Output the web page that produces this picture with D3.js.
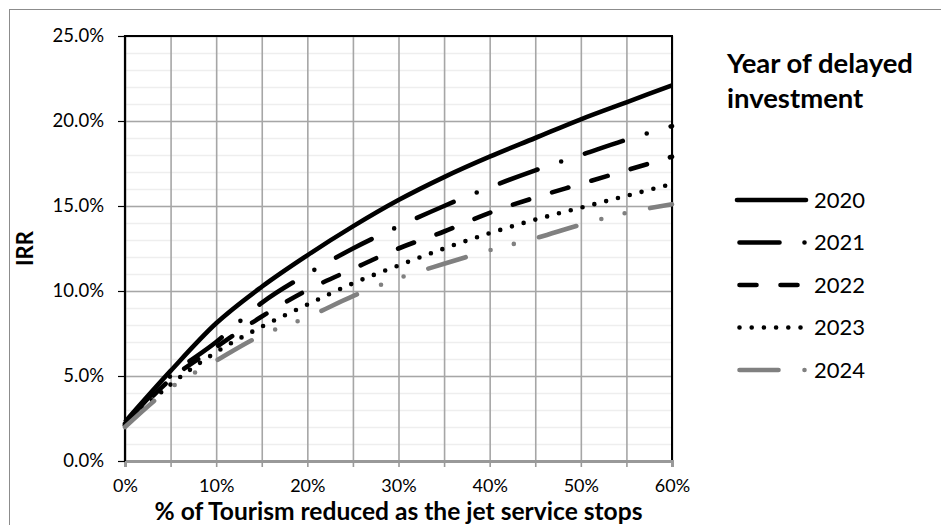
<!DOCTYPE html>
<html>
<head>
<meta charset="utf-8">
<script src="https://cdn.jsdelivr.net/npm/d3@7"></script>
<style>
  body { margin: 0; background: #fff; }
  svg { display: block; }
  text { font-family: Lato, "Liberation Sans", sans-serif; fill: #000; }
</style>
</head>
<body>
<div id="chart"></div>
<script>
// values (IRR in %, at every 5% of tourism reduced)
const reduction = [0, 5, 10, 15, 20, 25, 30, 35, 40, 45, 50, 55, 60];
const irr2020 = [2.3, 5.3, 8.1, 10.25, 12.1, 13.8, 15.35, 16.7, 17.9, 19.0, 20.1, 21.1, 22.1];
const irr2021 = [2.2, 5.0, 7.0, 9.3, 11.0, 12.5, 13.8, 15.0, 16.1, 17.1, 18.0, 18.9, 19.7];
const irr2022 = [2.1, 4.8, 6.7, 8.5, 10.05, 11.3, 12.5, 13.5, 14.6, 15.5, 16.3, 17.1, 17.9];
const irr2023 = [2.1, 4.5, 6.4, 7.9, 9.2, 10.45, 11.5, 12.5, 13.4, 14.2, 14.9, 15.6, 16.3];
const irr2024 = [2.0, 4.3, 5.9, 7.4, 8.45, 9.7, 10.75, 11.6, 12.4, 13.1, 13.9, 14.6, 15.1];
const years = ["2020", "2021", "2022", "2023", "2024"];
const yTicks = [0, 5, 10, 15, 20, 25];
const xTicks = [0, 5, 10, 15, 20, 25, 30, 35, 40, 45, 50, 55, 60];

const series = [irr2020, irr2021, irr2022, irr2023, irr2024];

// line look for each year
const lineStyle = {
  "2020": { color: "#000", dash: null },
  "2021": { color: "#000", dash: "40 25 0 25" },
  "2022": { color: "#000", dash: "17 24" },
  "2023": { color: "#000", dash: "0 12.2" },
  "2024": { color: "#808080", dash: "39 26 0 24 0 26" }
};

let width = 941, height = 525;
let plot = { left: 125, right: 672, top: 36, bottom: 461 };

let svg = d3.select("#chart")
  .append("svg")
  .attr("width", width)
  .attr("height", height);

// outer chart border
svg.append("rect")
  .attr("x", 9.5).attr("y", 9.5)
  .attr("width", 940).attr("height", 540)
  .attr("fill", "none")
  .attr("stroke", "#8c8c8c")
  .attr("stroke-width", 1);

let x = d3.scaleLinear().domain([0, 60]).range([plot.left, plot.right]);
let y = d3.scaleLinear().domain([0, 25]).range([plot.bottom, plot.top]);

// minor horizontal gridlines every 1%
svg.append("g")
  .attr("transform", `translate(${plot.left},0)`)
  .call(d3.axisLeft(y).ticks(25).tickSize(-(plot.right - plot.left)).tickFormat(""))
  .call(g => g.select(".domain").remove())
  .selectAll("line")
  .attr("stroke", "#eeeeee")
  .attr("stroke-width", 1.5);

// major horizontal gridlines
svg.append("g")
  .attr("transform", `translate(${plot.left},0)`)
  .call(d3.axisLeft(y).tickValues(yTicks).tickSize(-(plot.right - plot.left)).tickFormat(""))
  .call(g => g.select(".domain").remove())
  .selectAll("line")
  .attr("stroke", "#a6a6a6")
  .attr("stroke-width", 1.6);

// vertical gridlines
svg.append("g")
  .attr("transform", `translate(0,${plot.bottom})`)
  .call(d3.axisBottom(x).tickValues(xTicks).tickSize(-(plot.bottom - plot.top)).tickFormat(""))
  .call(g => g.select(".domain").remove())
  .selectAll("line")
  .attr("stroke", "#a6a6a6")
  .attr("stroke-width", 1.6);

// plot area frame
svg.append("rect")
  .attr("x", plot.left).attr("y", plot.top)
  .attr("width", plot.right - plot.left)
  .attr("height", plot.bottom - plot.top)
  .attr("fill", "none")
  .attr("stroke", "#000")
  .attr("stroke-width", 2);

// x axis
let xAxis = svg.append("g")
  .attr("transform", `translate(0,${plot.bottom})`)
  .call(d3.axisBottom(x).tickValues(xTicks).tickSize(6)
    .tickFormat(d => d % 10 === 0 ? d + "%" : ""));
xAxis.select(".domain")
  .attr("stroke", "#999")
  .attr("stroke-width", 3);
xAxis.selectAll("line")
  .attr("stroke", "#999")
  .attr("stroke-width", 1.6);
xAxis.selectAll("text")
  .attr("y", 31)
  .attr("dy", null)
  .attr("font-size", 18)
  .attr("font-family", "Lato");

// y axis
let yAxis = svg.append("g")
  .attr("transform", `translate(${plot.left},0)`)
  .call(d3.axisLeft(y).tickValues(yTicks).tickSize(7).tickPadding(14)
    .tickFormat(d => d.toFixed(1) + "%"));
yAxis.select(".domain").remove();
yAxis.selectAll("line").attr("stroke", "#000").attr("stroke-width", 1.2);
yAxis.selectAll("text")
  .attr("font-size", 18.5)
  .attr("font-family", "Lato");

svg.append("line")
  .attr("x1", plot.left).attr("x2", plot.left)
  .attr("y1", plot.top - 1).attr("y2", plot.bottom)
  .attr("stroke", "#000")
  .attr("stroke-width", 2.2);

// the five curves
let line = d3.line()
  .x((d, i) => x(reduction[i]))
  .y(d => y(d))
  .curve(d3.curveMonotoneX);

svg.append("g")
  .selectAll("path")
  .data(series)
  .join("path")
  .attr("d", line)
  .attr("fill", "none")
  .attr("stroke", (d, i) => lineStyle[years[i]].color)
  .attr("stroke-width", 4.6)
  .attr("stroke-linecap", (d, i) => i === 0 ? "butt" : "round")
  .attr("stroke-dasharray", (d, i) => lineStyle[years[i]].dash);

// fit a text to a given width
function fitWidth(sel, w) {
  let len = sel.node().getComputedTextLength();
  let fs = parseFloat(sel.attr("font-size"));
  sel.attr("font-size", fs * w / len);
}

// axis titles
let xTitle = svg.append("text")
  .attr("x", 398.5)
  .attr("y", 520)
  .attr("text-anchor", "middle")
  .attr("font-weight", "bold")
  .attr("font-size", 22)
  .text("% of Tourism reduced as the jet service stops");
fitWidth(xTitle, 488);

svg.append("text")
  .attr("transform", "translate(33,248.5) rotate(-90)")
  .attr("text-anchor", "middle")
  .attr("font-weight", "bold")
  .attr("font-size", 22)
  .text("IRR");

// legend
let lt1 = svg.append("text")
  .attr("x", 727).attr("y", 72.5)
  .attr("font-weight", "bold")
  .attr("font-size", 23)
  .text("Year of delayed");
fitWidth(lt1, 186);
svg.append("text")
  .attr("x", 727).attr("y", 107.5)
  .attr("font-weight", "bold")
  .attr("font-size", lt1.attr("font-size"))
  .text("investment");

let legend = svg.append("g")
  .selectAll("g")
  .data(years)
  .join("g")
  .attr("transform", (d, i) => `translate(0,${200 + i * 42.5})`);

legend.append("line")
  .attr("x1", (d, i) => i === 0 ? 737 : 739.5)
  .attr("x2", 806)
  .attr("stroke", d => lineStyle[d].color)
  .attr("stroke-width", 4.6)
  .attr("stroke-linecap", "round")
  .attr("stroke-dasharray", d => lineStyle[d].dash);

legend.append("text")
  .attr("x", 814)
  .attr("y", 7.5)
  .attr("font-size", 22)
  .text(d => d);
</script>
</body>
</html>
